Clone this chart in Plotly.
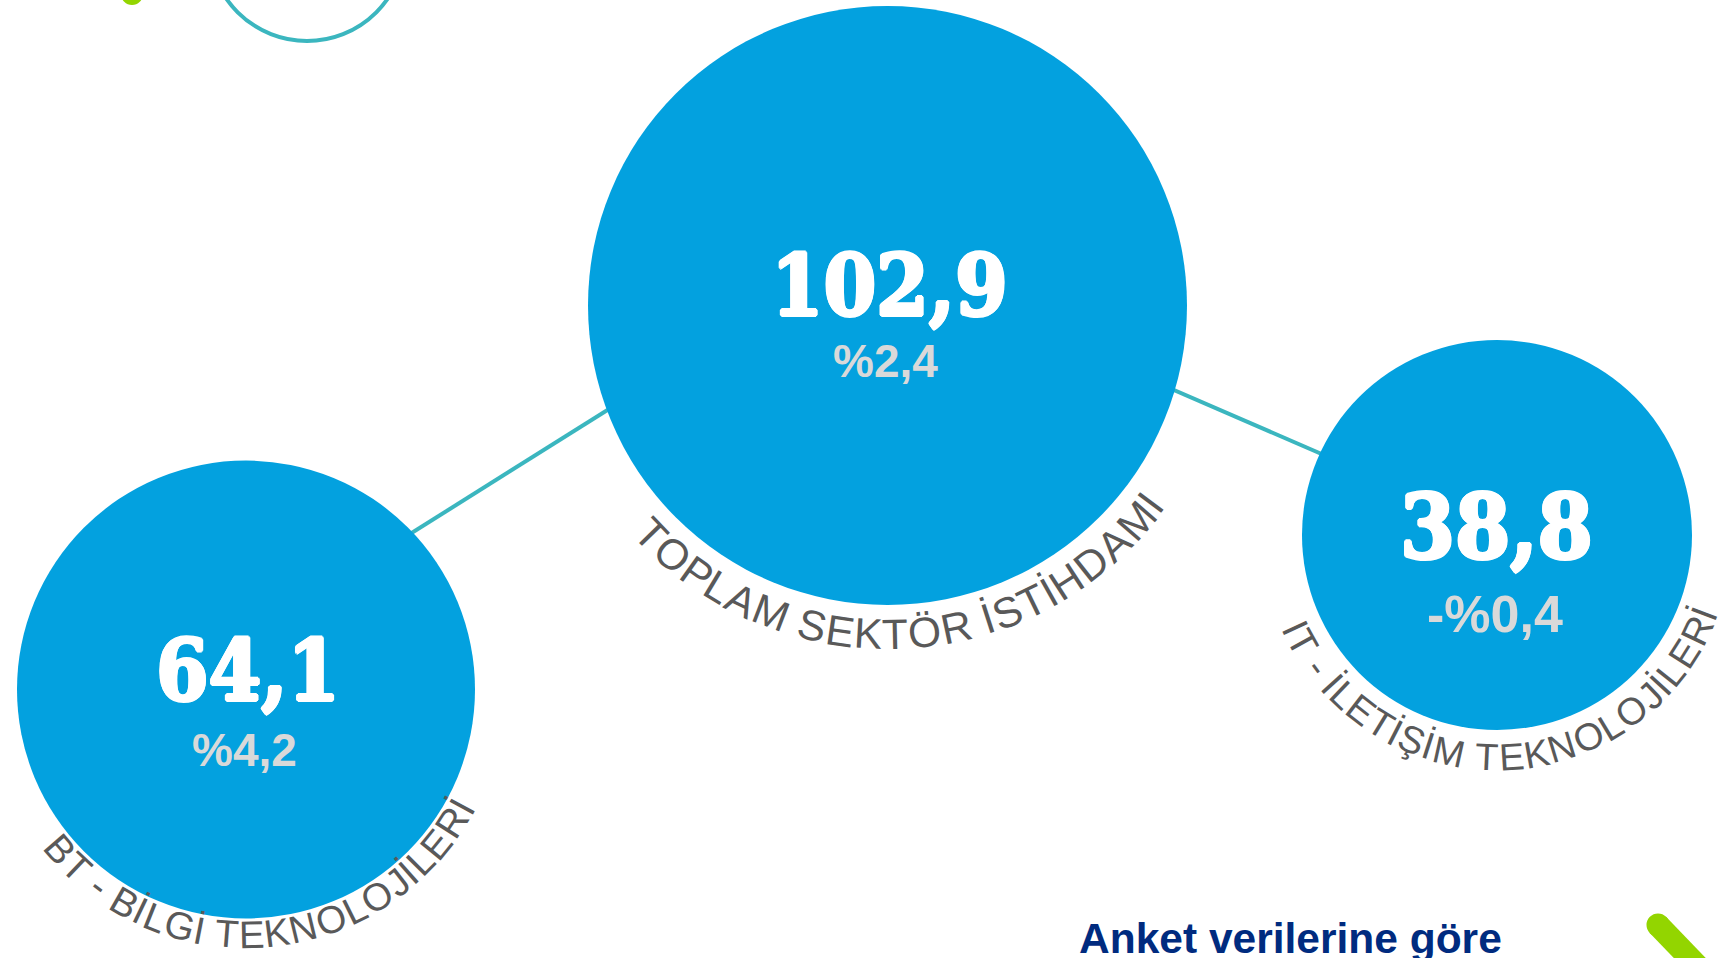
import math
import plotly.graph_objects as go

# ---- data ----
categories = ["TOPLAM SEKTÖR İSTİHDAMI", "BT - BİLGİ TEKNOLOJİLERİ", "IT - İLETİŞİM TEKNOLOJİLERİ"]
values = [102.9, 64.1, 38.8]          # bin kişi
changes = [2.4, 4.2, -0.4]            # yıllık değişim %
footnote = "Anket verilerine göre"

# ---- layout (pixel canvas) ----
W, H = 1722, 958
pos_x = [887.5, 246, 1497]
pos_y = [305.5, 689.5, 535]
diam = [599, 458, 390]
label_R = [329, 245, 222]
label_theta = [3.0, 5.3, 2.0]
label_fs = [42.5, 38.5, 38]
val_fs = [84, 84, 88]
chg_fs = [46, 46, 52]

BLUE = "#03A1DF"
TEAL = "#3BB6BF"
GREEN = "#93D500"
GREY = "#595959"
NAVY = "#002B7F"


def fmt_val(v):
    return f"{v:.1f}".replace(".", ",")


def fmt_chg(c):
    s = f"%{abs(c):.1f}".replace(".", ",")
    return ("-" + s) if c < 0 else s


fig = go.Figure()

# connector lines (beneath circles)
fig.add_trace(go.Scatter(x=[300, 700], y=[603, 352], mode="lines",
                         line=dict(color=TEAL, width=4), hoverinfo="skip", showlegend=False))
fig.add_trace(go.Scatter(x=[1100, 1400], y=[358, 488], mode="lines",
                         line=dict(color=TEAL, width=4), hoverinfo="skip", showlegend=False))

# bubbles
fig.add_trace(go.Scatter(
    x=pos_x, y=pos_y, mode="markers",
    marker=dict(size=diam, color=BLUE, line=dict(width=0), opacity=1),
    customdata=values, text=categories, hovertemplate="%{text}: %{customdata}<extra></extra>",
    showlegend=False, cliponaxis=False))

THICK = ("1.6px 0 0 white, -1.6px 0 0 white, 0 1.6px 0 white, 0 -1.6px 0 white, "
         "1.1px 1.1px 0 white, -1.1px -1.1px 0 white, 1.1px -1.1px 0 white, -1.1px 1.1px 0 white")

annotations = []
val_dx = [2, 2, -1]
val_dy = [-20.5, -19.5, -8]
chg_dy = [55.5, 60.5, 79]
for i in range(3):
    annotations.append(dict(x=pos_x[i] + val_dx[i], y=pos_y[i] + val_dy[i], text=fmt_val(values[i]),
                            showarrow=False, xanchor="center", yanchor="middle",
                            font=dict(family="DejaVu Serif Condensed, DejaVu Serif", size=val_fs[i],
                                      color="white", weight="bold", shadow=THICK)))
    annotations.append(dict(x=pos_x[i] - 2, y=pos_y[i] + chg_dy[i], text=fmt_chg(changes[i]),
                            showarrow=False, xanchor="center", yanchor="middle",
                            font=dict(family="Liberation Sans, Arial", size=chg_fs[i],
                                      color="#D9D9D9", weight="bold")))

# Arial advance widths (em/1000)
AW = {"A": 667, "B": 667, "D": 722, "E": 667, "G": 778, "H": 722, "I": 278, "İ": 278,
      "J": 500, "K": 667, "L": 556, "M": 833, "N": 722, "O": 778, "Ö": 778, "P": 667,
      "R": 722, "S": 667, "Ş": 667, "T": 611, " ": 278, "-": 333}


def arc_text(text, cx, cy, R, theta_c, fs):
    widths = [AW.get(ch, 600) / 1000 * fs for ch in text]
    total = sum(widths)
    s = -total / 2
    tc = math.radians(theta_c)
    for ch, w in zip(text, widths):
        sc = s + w / 2
        th = tc + sc / R
        s += w
        if ch == " ":
            continue
        annotations.append(dict(
            x=cx + R * math.sin(th), y=cy + R * math.cos(th), text=ch,
            textangle=-math.degrees(th), showarrow=False,
            xanchor="center", yanchor="middle",
            font=dict(family="Liberation Sans, Arial", size=fs, color=GREY)))


for i in range(3):
    arc_text(categories[i], pos_x[i], pos_y[i], label_R[i], label_theta[i], label_fs[i])

annotations.append(dict(x=1077, y=938, text="<b>" + footnote + "</b>", showarrow=False,
                        xanchor="left", yanchor="middle",
                        font=dict(family="Liberation Sans, Arial", size=42.5, color=NAVY)))

shapes = [
    dict(type="circle", x0=209, x1=405, y0=-155, y1=41, line=dict(color=TEAL, width=4),
         layer="below"),
    dict(type="circle", x0=121, x1=143, y0=-17, y1=5, fillcolor=GREEN, line=dict(width=0)),
    dict(type="line", x0=1658, y0=925, x1=1735, y1=1005, line=dict(color=GREEN, width=23)),
    dict(type="circle", x0=1646.5, x1=1669.5, y0=913.5, y1=936.5, fillcolor=GREEN,
         line=dict(width=0)),
]

fig.update_layout(
    width=W, height=H, margin=dict(l=0, r=0, t=0, b=0),
    paper_bgcolor="white", plot_bgcolor="white",
    xaxis=dict(range=[0, W], visible=False, fixedrange=True),
    yaxis=dict(range=[H, 0], visible=False, fixedrange=True),
    annotations=annotations, shapes=shapes, showlegend=False,
)

fig.write_html("out.html",
               config={"displayModeBar": False, "staticPlot": False},
               post_script="document.body.style.margin='0';document.body.style.overflow='hidden';")
